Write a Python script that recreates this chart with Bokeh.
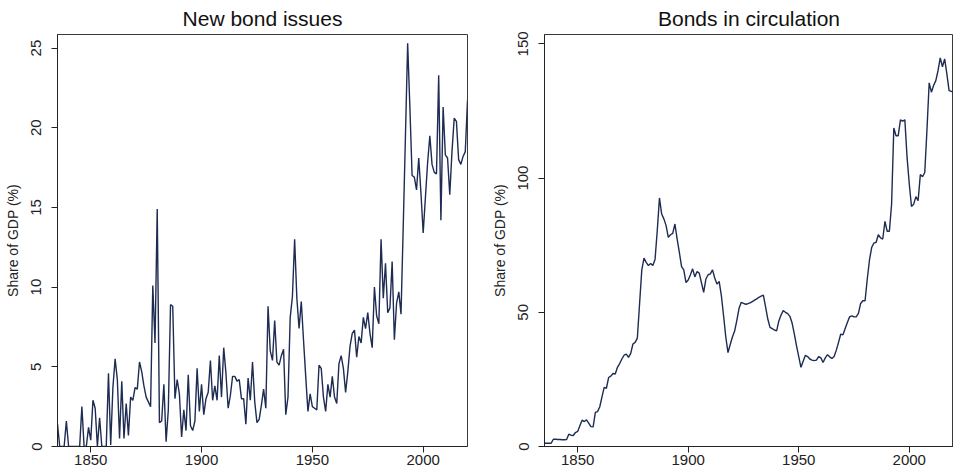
from bokeh.plotting import figure
from bokeh.layouts import row
from bokeh.models import Range1d, FixedTicker
from bokeh.embed import file_html
from bokeh.resources import INLINE

years = list(range(1835, 2021))

new_issues = [
    1.4, 0, 0, 0, 1.6, 0, 0, 0, 0, 0,            # 1835-1844
    0, 2.5, 0, 0, 1.2, 0.4, 2.9, 2.4, 0, 1.8,    # 1845-1854
    0, 0, 0, 4.6, 0.1, 3.7, 5.5, 4.2, 0.5, 4.1,  # 1855-1864
    0.5, 2.7, 0.7, 3.1, 2.9, 3.7, 3.6, 5.3, 4.7, 3.8,  # 1865-1874
    3.1, 2.8, 2.5, 10.1, 6.5, 14.9, 1.5, 1.6, 3.9, 0.3,  # 1875-1884
    2.3, 8.9, 8.8, 3.0, 4.2, 3.3, 0.6, 2.3, 1.0, 4.5,  # 1885-1894
    1.3, 1.0, 1.6, 4.9, 2.2, 3.9, 2.0, 3.0, 3.4, 5.4,  # 1895-1904
    2.9, 3.8, 2.9, 5.7, 3.1, 6.2, 4.6, 2.4, 3.2, 4.4,  # 1905-1914
    4.4, 4.1, 4.2, 3.0, 3.0, 1.4, 4.3, 2.9, 5.3, 2.8,  # 1915-1924
    1.5, 1.7, 2.6, 3.6, 2.4, 8.8, 6.0, 5.4, 7.9, 5.3,  # 1925-1934
    5.1, 5.7, 6.1, 2.0, 3.1, 8.1, 9.4, 13.0, 9.3, 7.4,  # 1935-1944
    9.1, 6.7, 4.4, 2.2, 3.3, 2.5, 2.4, 2.3, 5.1, 4.9,  # 1945-1954
    3.1, 2.2, 3.9, 3.1, 4.4, 3.1, 2.7, 5.2, 5.7, 4.9,  # 1955-1964
    3.4, 4.7, 6.3, 7.1, 7.3, 5.6, 6.9, 6.5, 8.1, 7.4,  # 1965-1974
    8.4, 7.1, 6.2, 10.0, 8.2, 7.7, 13.0, 9.3, 11.5, 8.4,  # 1975-1984
    8.7, 11.6, 6.7, 9.0, 9.7, 8.3, 13.8, 19.5, 25.3, 21.3,  # 1985-1994
    17.0, 16.9, 16.1, 18.1, 15.9, 13.4, 15.6, 17.8, 19.5, 17.7,  # 1995-2004
    17.2, 17.1, 23.3, 14.2, 21.3, 18.3, 18.1, 15.8, 18.5, 20.6,  # 2005-2014
    20.4, 18.0, 17.7, 18.2, 18.5, 21.7,  # 2015-2020
]

circulation = [
    1.2, 1.2, 1.2, 1.2, 2.7, 2.7, 2.6, 2.6, 2.5, 2.5,  # 1835-1844
    2.6, 4.6, 4.2, 4.1, 5.2, 5.6, 7.7, 9.8, 9.3, 9.9,  # 1845-1854
    8.7, 7.4, 7.3, 12.7, 13.0, 14.8, 18.5, 22.0, 21.7, 25.7,  # 1855-1864
    26.2, 27.2, 27.0, 29.5, 30.9, 32.6, 34.0, 34.4, 33.2, 34.7,  # 1865-1874
    38.2, 38.8, 40.4, 53.1, 65.7, 70.2, 68.6, 67.4, 68.2, 67.4,  # 1875-1884
    69.7, 80.4, 92.6, 86.6, 84.8, 82.3, 77.9, 78.9, 79.4, 82.9,  # 1885-1894
    77.3, 72.3, 67.0, 65.8, 61.1, 62.0, 64.0, 66.2, 63.2, 65.2,  # 1895-1904
    64.6, 61.0, 57.4, 62.4, 64.0, 64.3, 65.8, 62.8, 60.5, 61.5,  # 1905-1914
    56.2, 48.7, 40.8, 35.0, 38.0, 40.8, 43.0, 47.0, 51.5, 53.7,  # 1915-1924
    53.3, 53.0, 53.2, 53.5, 54.0, 54.5, 55.0, 55.6, 56.0, 56.4,  # 1925-1934
    52.0, 47.5, 44.4, 43.9, 43.4, 43.1, 46.8, 49.0, 50.6, 50.0,  # 1935-1944
    49.5, 48.5, 46.0, 42.0, 37.5, 33.5, 29.5, 31.8, 34.0, 33.5,  # 1945-1954
    32.6, 32.2, 32.0, 32.2, 33.5, 33.0, 31.3, 33.0, 34.2, 33.4,  # 1955-1964
    32.8, 33.5, 35.9, 38.8, 41.9, 41.6, 44.0, 46.2, 48.3, 48.7,  # 1965-1974
    48.3, 48.3, 49.6, 53.3, 54.3, 54.3, 62.4, 69.5, 74.2, 75.8,  # 1975-1984
    76.1, 78.9, 77.7, 77.3, 83.9, 80.2, 80.2, 90.3, 118.7, 115.8,  # 1985-1994
    115.8, 121.7, 121.2, 121.7, 107.7, 97.8, 89.4, 90.3, 93.1, 91.6,  # 1995-2004
    101.3, 100.5, 102.1, 118.0, 135.5, 132.0, 134.5, 136.3, 140.0, 144.8,  # 2005-2014
    141.5, 144.4, 138.8, 132.6, 132.3, 132.0,  # 2015-2020
]

x_ticks = [1850, 1900, 1950, 2000]
left_y_ticks = [0, 5, 10, 15, 20, 25]
right_y_ticks = [0, 50, 100, 150]

FONT = "Liberation Sans"
LINE_COLOR = "#1e2b52"


def make_panel(title, values, yticks, ymax, width, border_left, border_right):
    p = figure(width=width, height=472, output_backend="svg", toolbar_location=None,
               x_range=Range1d(1835, 2020), y_range=Range1d(0, ymax),
               min_border_left=border_left, min_border_right=border_right,
               min_border_top=0, min_border_bottom=26)
    p.title.text = title
    p.title.align = "center"
    p.title.text_font = FONT
    p.title.text_font_size = "21px"
    p.title.text_font_style = "normal"
    p.title.text_color = "#111111"
    p.title.standoff = 9
    p.line(years, values, line_color=LINE_COLOR, line_width=1.4)
    p.xgrid.visible = False
    p.ygrid.visible = False
    p.outline_line_color = "#3a3a3a"
    p.outline_line_width = 1
    p.background_fill_color = "white"
    p.border_fill_color = "white"

    p.xaxis.ticker = FixedTicker(ticks=x_ticks)
    p.yaxis.ticker = FixedTicker(ticks=yticks)
    for ax in (p.xaxis, p.yaxis):
        ax.minor_tick_line_color = None
        ax.major_tick_out = 6
        ax.major_tick_in = 0
        ax.axis_line_color = "#222222"
        ax.major_tick_line_color = "#222222"
        ax.major_label_text_font = FONT
        ax.major_label_text_font_size = "15px"
        ax.major_label_text_color = "#222222"
    p.xaxis.major_label_standoff = 2
    p.yaxis.major_label_standoff = 10
    p.yaxis.major_label_orientation = "vertical"
    p.yaxis.axis_label = "Share of GDP (%)"
    p.yaxis.axis_label_text_font = FONT
    p.yaxis.axis_label_text_font_size = "14px"
    p.yaxis.axis_label_text_font_style = "normal"
    p.yaxis.axis_label_text_color = "#222222"
    p.yaxis.axis_label_standoff = 8
    return p


p1 = make_panel("New bond issues", new_issues, left_y_ticks, 25.85, 480, 57, 13)
p2 = make_panel("Bonds in circulation", circulation, right_y_ticks, 153.5, 473, 64, 0)

layout = row(p1, p2)

with open("out.html", "w") as f:
    f.write(file_html(layout, INLINE))
